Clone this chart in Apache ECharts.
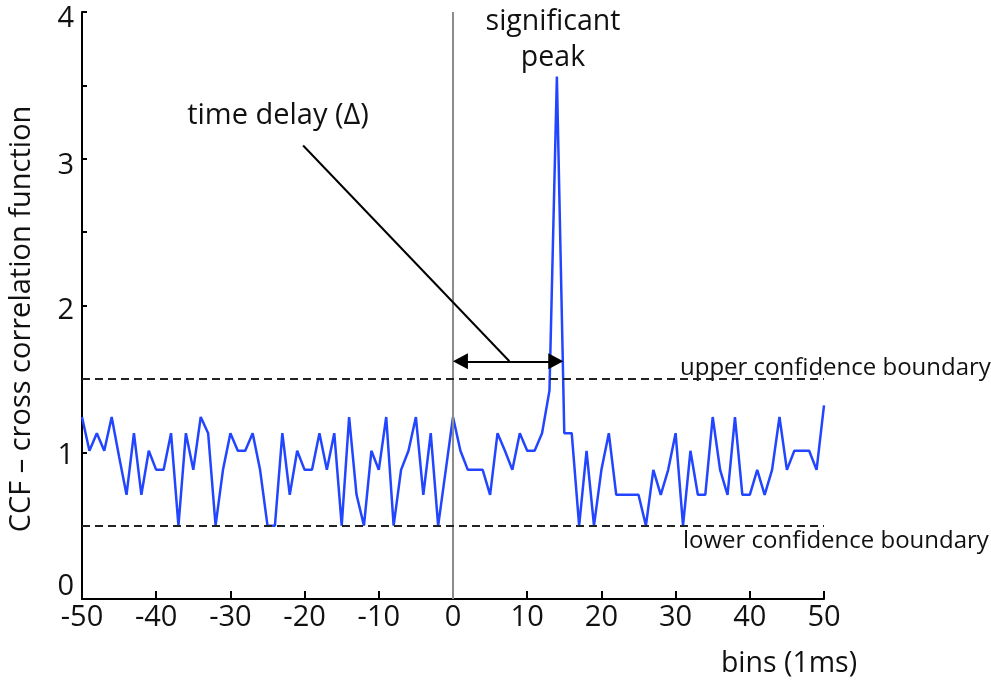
<!DOCTYPE html>
<html>
<head>
<meta charset="utf-8">
<script src="https://cdn.jsdelivr.net/npm/echarts@6/dist/echarts.min.js"></script>
<style>
  html, body { margin: 0; padding: 0; background: #fff; }
  #chart { width: 991px; height: 683px; }
</style>
</head>
<body>
<div id="chart"></div>
<script>
// bins (ms), -50 .. 50
const bins = [
  -50, -49, -48, -47, -46, -45, -44, -43, -42, -41,
  -40, -39, -38, -37, -36, -35, -34, -33, -32, -31,
  -30, -29, -28, -27, -26, -25, -24, -23, -22, -21,
  -20, -19, -18, -17, -16, -15, -14, -13, -12, -11,
  -10, -9, -8, -7, -6, -5, -4, -3, -2, -1,
  0, 1, 2, 3, 4, 5, 6, 7, 8, 9,
  10, 11, 12, 13, 14, 15, 16, 17, 18, 19,
  20, 21, 22, 23, 24, 25, 26, 27, 28, 29,
  30, 31, 32, 33, 34, 35, 36, 37, 38, 39,
  40, 41, 42, 43, 44, 45, 46, 47, 48, 49,
  50,
];

// CCF values
const ccf = [
  1.24, 1.01, 1.13, 1.01, 1.24, 0.97, 0.71, 1.13, 0.71, 1.01,
  0.88, 0.88, 1.13, 0.5, 1.13, 0.88, 1.24, 1.13, 0.5, 0.88,
  1.13, 1.01, 1.01, 1.13, 0.88, 0.5, 0.5, 1.13, 0.71, 1.01,
  0.88, 0.88, 1.13, 0.88, 1.13, 0.5, 1.24, 0.71, 0.5, 1.01,
  0.88, 1.24, 0.5, 0.88, 1.01, 1.24, 0.71, 1.13, 0.5, 0.87,
  1.24, 1.01, 0.88, 0.88, 0.88, 0.71, 1.13, 1.01, 0.88, 1.13,
  1.01, 1.01, 1.13, 1.42, 3.56, 1.13, 1.13, 0.5, 1.01, 0.5,
  0.88, 1.13, 0.71, 0.71, 0.71, 0.71, 0.5, 0.88, 0.71, 0.88,
  1.13, 0.5, 1.01, 0.71, 0.71, 1.24, 0.88, 0.71, 1.24, 0.71,
  0.71, 0.88, 0.71, 0.88, 1.24, 0.88, 1.01, 1.01, 1.01, 0.88,
  1.32,
];

const upperBound = 1.5;
const lowerBound = 0.5;
const peakBin = 14;
const delayY = 1.62;
const yTicks = [0, 1, 2, 3, 4];

const font = "'Open Sans', 'Noto Sans', sans-serif";

const chart = echarts.init(document.getElementById("chart"), null, { renderer: "canvas" });

const dashed = { color: "#222", width: 2, type: [8, 5] };

// the y labels sit a little off their ticks in the original
const yRich = {
  y0: { padding: [0, 0, 24, 0] },
  y1: { padding: [6, 0, 0, 0] },
  y2: { padding: [10, 0, 0, 0] },
  y3: { padding: [14, 0, 0, 0] },
  y4: { padding: [14, 0, 0, 0] },
};

chart.setOption({
  animation: false,
  backgroundColor: "#fff",
  grid: { left: 82, right: 167, top: 12, bottom: 84 },
  xAxis: {
    type: "value",
    min: -50,
    max: 50,
    interval: 10,
    axisLine: { onZero: false, lineStyle: { color: "#000", width: 2 } },
    axisTick: { inside: true, length: 8, lineStyle: { color: "#000", width: 2 } },
    axisLabel: { color: "#111", fontFamily: font, fontSize: 29, margin: 4 },
    splitLine: { show: false },
  },
  yAxis: {
    type: "value",
    min: 0,
    max: 4,
    interval: 0.5,
    axisLine: { show: true, onZero: false, lineStyle: { color: "#000", width: 2 } },
    axisTick: { inside: true, length: 5, lineStyle: { color: "#000", width: 2 } },
    axisLabel: {
      color: "#111",
      fontFamily: font,
      fontSize: 29,
      margin: 8,
      rich: yRich,
      formatter: (v) => (yTicks.includes(v) ? `{y${v}|${v}}` : ""),
    },
    splitLine: { show: false },
  },
  graphic: [
    { type: "text", x: 22, y: 319, rotation: Math.PI / 2,
      style: { text: "CCF \u2013 cross correlation function", font: `29px ${font}`, fill: "#111", align: "center", verticalAlign: "middle" } },
    { type: "text", x: 789, y: 664,
      style: { text: "bins (1ms)", font: `28.5px ${font}`, fill: "#111", align: "center", verticalAlign: "middle" } },
    { type: "text", x: 553, y: 22,
      style: { text: "significant", font: `28.5px ${font}`, fill: "#111", align: "center", verticalAlign: "middle" } },
    { type: "text", x: 553, y: 58,
      style: { text: "peak", font: `28.5px ${font}`, fill: "#111", align: "center", verticalAlign: "middle" } },
    { type: "text", x: 278, y: 116,
      style: { text: "time delay (\u0394)", font: `29px ${font}`, fill: "#111", align: "center", verticalAlign: "middle" } },
    { type: "text", x: 680, y: 368,
      style: { text: "upper confidence boundary", font: `24px ${font}`, fill: "#111", align: "left", verticalAlign: "middle" } },
    { type: "text", x: 683, y: 541,
      style: { text: "lower confidence boundary", font: `24px ${font}`, fill: "#111", align: "left", verticalAlign: "middle" } },
  ],
  series: [
    {
      type: "line",
      data: bins.map((b, i) => [b, ccf[i]]),
      showSymbol: false,
      lineStyle: { color: "#2245ff", width: 2.5 },
      z: 3,
      markLine: {
        silent: true,
        symbol: ["none", "none"],
        label: { show: false },
        data: [
          [
            { coord: [0, 0], lineStyle: { color: "#8c8c8c", width: 2, type: "solid" } },
            { coord: [0, 4] },
          ],
          [
            { coord: [-50, upperBound], lineStyle: dashed },
            { coord: [50, upperBound] },
          ],
          [
            { coord: [-50, lowerBound], lineStyle: dashed },
            { coord: [50, lowerBound] },
          ],
          [
            { coord: [-20.2, 3.09], lineStyle: { color: "#000", width: 2, type: "solid" } },
            { coord: [7.6, delayY] },
          ],
          [
            { coord: [1.0, delayY], symbol: "triangle", symbolSize: [16, 15], lineStyle: { color: "#000", width: 2, type: "solid" }, itemStyle: { color: "#000" } },
            { coord: [peakBin - 0.15, delayY], symbol: "triangle", symbolSize: [16, 15], itemStyle: { color: "#000" } },
          ],
        ],
      },
    },
  ],
});

window.addEventListener("resize", () => chart.resize());
</script>
</body>
</html>
